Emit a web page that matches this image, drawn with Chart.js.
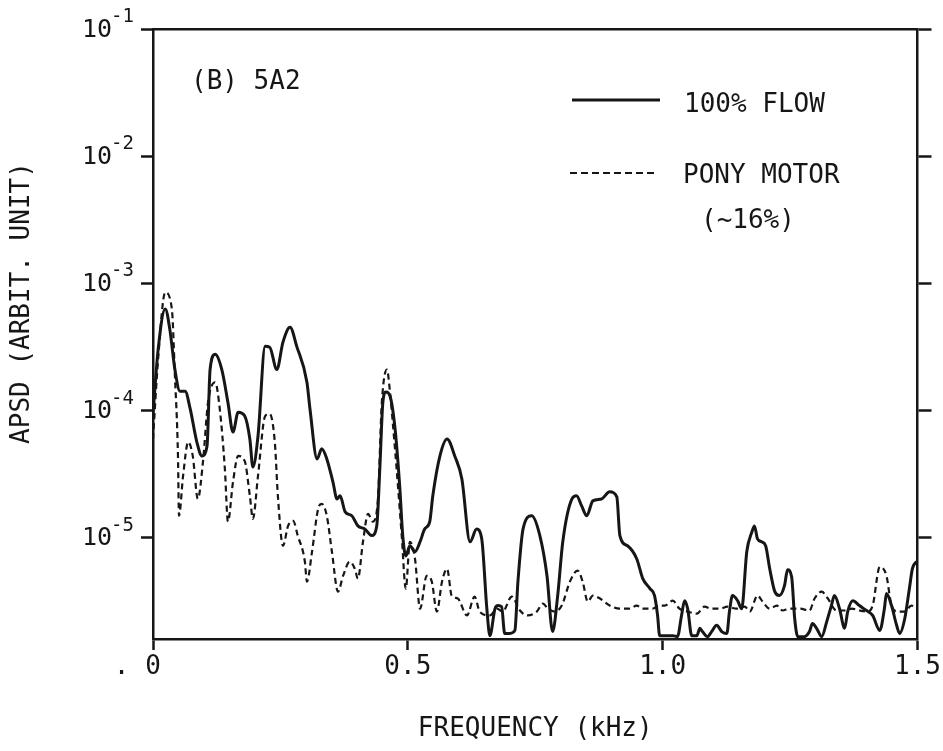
<!DOCTYPE html>
<html>
<head>
<meta charset="utf-8">
<script src="https://cdn.jsdelivr.net/npm/chart.js@4.4.1/dist/chart.umd.min.js"></script>
<style>
  html, body { margin: 0; padding: 0; background: #fff; }
  #wrap { width: 943px; height: 751px; }
</style>
</head>
<body>
<div id="wrap"><canvas id="apsd"></canvas></div>
<script>
// frequency (kHz) and APSD, 100% flow
var freqFlow = [
  0, 0.010, 0.024, 0.033, 0.043, 0.053, 0.063, 0.073, 0.086, 0.096,
  0.106, 0.112, 0.122, 0.135, 0.147, 0.157, 0.167, 0.180, 0.190, 0.196,
  0.206, 0.220, 0.229, 0.243, 0.255, 0.269, 0.282, 0.302, 0.308, 0.322,
  0.331, 0.341, 0.353, 0.361, 0.367, 0.377, 0.390, 0.402, 0.416, 0.429,
  0.439, 0.445, 0.451, 0.457, 0.465, 0.475, 0.484, 0.490, 0.496, 0.504,
  0.514, 0.524, 0.533, 0.543, 0.549, 0.563, 0.577, 0.592, 0.606, 0.622,
  0.635, 0.645, 0.655, 0.661, 0.671, 0.677, 0.684, 0.690, 0.700, 0.710,
  0.716, 0.726, 0.743, 0.759, 0.773, 0.784, 0.794, 0.804, 0.822, 0.831,
  0.841, 0.851, 0.863, 0.880, 0.896, 0.910, 0.916, 0.931, 0.949, 0.961,
  0.975, 0.984, 0.990, 0.994, 1.008, 1.020, 1.029, 1.037, 1.043, 1.049,
  1.057, 1.067, 1.073, 1.078, 1.088, 1.096, 1.106, 1.116, 1.126, 1.131,
  1.137, 1.147, 1.155, 1.165, 1.175, 1.180, 1.186, 1.194, 1.202, 1.210,
  1.220, 1.229, 1.239, 1.245, 1.253, 1.259, 1.265, 1.278, 1.288, 1.294,
  1.302, 1.312, 1.322, 1.331, 1.337, 1.347, 1.357, 1.363, 1.373, 1.386,
  1.400, 1.412, 1.426, 1.435, 1.439, 1.449, 1.459, 1.465, 1.475, 1.484,
  1.490, 1.500
];
var apsdFlow = [
  9.4e-5, 3.0e-4, 6.3e-4, 4.35e-4, 2.1e-4, 1.42e-4, 1.42e-4, 1.03e-4, 5.66e-5, 4.4e-5,
  5.26e-5, 2.1e-4, 2.77e-4, 2.1e-4, 1.16e-4, 6.78e-5, 9.7e-5, 9.05e-5, 5.97e-5, 3.6e-5,
  6.3e-5, 3.2e-4, 3.15e-4, 2.1e-4, 3.45e-4, 4.52e-4, 3.2e-4, 1.67e-4, 1.03e-4, 4.17e-5,
  5.0e-5, 4.17e-5, 2.75e-5, 2.02e-5, 2.14e-5, 1.6e-5, 1.49e-5, 1.24e-5, 1.17e-5, 1.04e-5,
  1.24e-5, 3.48e-5, 1.16e-4, 1.4e-4, 1.3e-4, 7.15e-5, 2.56e-5, 1.04e-5, 7.2e-6, 8.65e-6,
  7.77e-6, 9.3e-6, 1.17e-5, 1.34e-5, 2.14e-5, 4.4e-5, 5.97e-5, 4.4e-5, 2.9e-5, 9.3e-6,
  1.17e-5, 9.8e-6, 2.77e-6, 1.7e-6, 2.77e-6, 2.93e-6, 2.87e-6, 1.77e-6, 1.77e-6, 1.87e-6,
  4.52e-6, 1.17e-5, 1.49e-5, 1.04e-5, 5.03e-6, 1.83e-6, 3.51e-6, 9.3e-6, 2.02e-5, 2.14e-5,
  1.78e-5, 1.49e-5, 1.95e-5, 2.02e-5, 2.3e-5, 2.1e-5, 1.04e-5, 8.65e-6, 6.84e-6, 4.77e-6,
  3.98e-6, 3.51e-6, 2.45e-6, 1.7e-6, 1.7e-6, 1.7e-6, 1.67e-6, 2.45e-6, 3.2e-6, 2.77e-6,
  1.7e-6, 1.7e-6, 1.94e-6, 1.83e-6, 1.67e-6, 1.83e-6, 2.05e-6, 1.83e-6, 1.77e-6, 2.63e-6,
  3.51e-6, 3.2e-6, 2.77e-6, 7.77e-6, 1.11e-5, 1.24e-5, 9.8e-6, 9.3e-6, 8.65e-6, 5.71e-6,
  3.77e-6, 3.51e-6, 4.2e-6, 5.61e-6, 4.94e-6, 2.32e-6, 1.67e-6, 1.67e-6, 1.83e-6, 2.12e-6,
  1.94e-6, 1.67e-6, 2.2e-6, 2.93e-6, 3.51e-6, 2.77e-6, 1.94e-6, 2.63e-6, 3.2e-6, 2.93e-6,
  2.68e-6, 2.45e-6, 1.87e-6, 2.77e-6, 3.64e-6, 2.93e-6, 2.05e-6, 1.77e-6, 2.32e-6, 3.98e-6,
  5.71e-6, 6.6e-6
];

// pony motor (~16%)
var freqPony = [
  0, 0.010, 0.024, 0.037, 0.043, 0.049, 0.051, 0.059, 0.069, 0.078,
  0.088, 0.098, 0.108, 0.122, 0.131, 0.141, 0.147, 0.157, 0.167, 0.180,
  0.190, 0.196, 0.206, 0.220, 0.229, 0.239, 0.245, 0.255, 0.265, 0.275,
  0.284, 0.298, 0.302, 0.312, 0.324, 0.331, 0.341, 0.351, 0.363, 0.373,
  0.386, 0.396, 0.402, 0.412, 0.422, 0.431, 0.441, 0.449, 0.459, 0.465,
  0.471, 0.478, 0.488, 0.496, 0.504, 0.514, 0.524, 0.537, 0.547, 0.557,
  0.567, 0.577, 0.586, 0.598, 0.616, 0.631, 0.641, 0.661, 0.675, 0.686,
  0.704, 0.720, 0.735, 0.753, 0.765, 0.775, 0.788, 0.802, 0.818, 0.833,
  0.843, 0.853, 0.863, 0.877, 0.896, 0.916, 0.935, 0.949, 0.961, 0.980,
  0.994, 1.004, 1.020, 1.033, 1.049, 1.067, 1.082, 1.096, 1.112, 1.127,
  1.145, 1.161, 1.171, 1.186, 1.196, 1.210, 1.224, 1.235, 1.249, 1.269,
  1.288, 1.298, 1.312, 1.324, 1.341, 1.357, 1.371, 1.386, 1.402, 1.412,
  1.426, 1.439, 1.449, 1.461, 1.475, 1.488, 1.500
];
var apsdPony = [
  5.97e-5, 2.53e-4, 8.5e-4, 6.3e-4, 1.87e-4, 4.4e-5, 1.49e-5, 3.06e-5, 5.66e-5, 4.4e-5,
  2.02e-5, 3.94e-5, 1.16e-4, 1.67e-4, 1.03e-4, 3.48e-5, 1.34e-5, 2.75e-5, 4.4e-5, 4.0e-5,
  2.14e-5, 1.41e-5, 3.06e-5, 9.05e-5, 9.4e-5, 5.66e-5, 2.14e-5, 8.65e-6, 1.24e-5, 1.36e-5,
  1.04e-5, 6.48e-6, 4.52e-6, 7.77e-6, 1.69e-5, 1.85e-5, 1.49e-5, 7.77e-6, 3.77e-6, 5.03e-6,
  6.48e-6, 5.71e-6, 4.77e-6, 9.3e-6, 1.54e-5, 1.34e-5, 1.92e-5, 1.16e-4, 2.1e-4, 1.4e-4,
  7.55e-5, 3.48e-5, 1.04e-5, 3.98e-6, 9.3e-6, 6.84e-6, 2.77e-6, 5.03e-6, 4.52e-6, 2.63e-6,
  4.52e-6, 5.71e-6, 3.51e-6, 3.33e-6, 2.45e-6, 3.45e-6, 2.63e-6, 2.45e-6, 2.77e-6, 2.63e-6,
  3.45e-6, 2.68e-6, 2.45e-6, 2.63e-6, 3.04e-6, 2.77e-6, 2.63e-6, 2.93e-6, 4.52e-6, 5.51e-6,
  4.52e-6, 3.15e-6, 3.51e-6, 3.33e-6, 2.93e-6, 2.77e-6, 2.77e-6, 2.93e-6, 2.77e-6, 2.77e-6,
  2.93e-6, 2.93e-6, 3.2e-6, 2.77e-6, 2.63e-6, 2.53e-6, 2.87e-6, 2.77e-6, 2.77e-6, 2.87e-6,
  2.77e-6, 2.87e-6, 2.63e-6, 3.51e-6, 3.15e-6, 2.77e-6, 2.93e-6, 2.68e-6, 2.77e-6, 2.77e-6,
  2.68e-6, 3.33e-6, 3.77e-6, 3.33e-6, 2.68e-6, 2.68e-6, 2.77e-6, 2.68e-6, 2.63e-6, 2.93e-6,
  5.9e-6, 5.03e-6, 2.93e-6, 2.63e-6, 2.63e-6, 2.93e-6, 2.77e-6
];

// axis ticks
var xTickValues = [0, 0.5, 1.0, 1.5];
var xTickLabels = [". 0  ", "0.5", "1.0", "1.5"];
var yTickValues = [1e-5, 1e-4, 1e-3, 1e-2, 1e-1];
var yTickExponents = ["-5", "-4", "-3", "-2", "-1"];

var ink = "#161616";
var mono = "'DejaVu Sans Mono', 'Liberation Mono', monospace";

// helper: pair up x and y arrays
function toPoints(xs, ys) {
  var pts = [];
  for (var i = 0; i < xs.length; i++) {
    pts.push({ x: xs[i], y: ys[i] });
  }
  return pts;
}

function decadeTicks(scale) {
  scale.ticks = yTickValues.map(function (v) { return { value: v }; });
}

// labels, legend and the 10^n tick labels
var annotate = {
  id: "annotate",
  afterDraw: function (chart) {
    var ctx = chart.ctx;
    var y = chart.scales.y;
    ctx.save();
    ctx.fillStyle = ink;
    ctx.strokeStyle = ink;

    // y tick labels with raised exponent
    ctx.textBaseline = "middle";
    for (var i = 0; i < yTickValues.length; i++) {
      var py = y.getPixelForValue(yTickValues[i]);
      ctx.font = "25px " + mono;
      ctx.textAlign = "right";
      ctx.fillText("10", 112, py + 1);
      ctx.font = "19px " + mono;
      ctx.textAlign = "left";
      ctx.fillText(yTickExponents[i], 111, py - 12);
    }

    // y axis title
    ctx.save();
    ctx.translate(22, 303);
    ctx.rotate(-Math.PI / 2);
    ctx.font = "26px " + mono;
    ctx.textAlign = "center";
    ctx.fillText("APSD (ARBIT. UNIT)", 0, 0);
    ctx.restore();

    // panel label
    ctx.font = "26px " + mono;
    ctx.textAlign = "left";
    ctx.fillText("(B) 5A2", 191, 82);

    // legend
    ctx.lineWidth = 3;
    ctx.beginPath();
    ctx.moveTo(572, 100);
    ctx.lineTo(660, 100);
    ctx.stroke();
    ctx.fillText("100% FLOW", 684, 105);

    ctx.lineWidth = 2;
    ctx.setLineDash([7, 4]);
    ctx.beginPath();
    ctx.moveTo(570, 173);
    ctx.lineTo(657, 173);
    ctx.stroke();
    ctx.setLineDash([]);
    ctx.fillText("PONY MOTOR", 683, 176);
    ctx.fillText("(~16%)", 701, 221);

    ctx.restore();
  }
};

var chart = new Chart(document.getElementById("apsd").getContext("2d"), {
  type: "line",
  data: {
    datasets: [
      {
        label: "100% FLOW",
        data: toPoints(freqFlow, apsdFlow),
        borderColor: ink,
        borderWidth: 3,
        pointRadius: 0,
        cubicInterpolationMode: "monotone",
        fill: false,
      },
      {
        label: "PONY MOTOR (~16%)",
        data: toPoints(freqPony, apsdPony),
        borderColor: ink,
        borderWidth: 2.2,
        borderDash: [6, 4],
        pointRadius: 0,
        cubicInterpolationMode: "monotone",
        fill: false,
      },
    ],
  },
  options: {
    responsive: true,
    maintainAspectRatio: false,
    animation: false,
    devicePixelRatio: 1,
    layout: { padding: 0 },
    plugins: {
      legend: { display: false },
      tooltip: { enabled: false },
    },
    scales: {
      x: {
        type: "linear",
        position: "bottom",
        min: 0,
        max: 1.5,
        afterBuildTicks: function (s) {
          s.ticks = xTickValues.map(function (v) { return { value: v }; });
        },
        afterFit: function (s) { s.height = 112; },
        ticks: {
          callback: function (v, i) { return xTickLabels[i]; },
          font: { family: mono, size: 26 },
          color: ink,
          padding: 2,
          maxRotation: 0,
          autoSkip: false,
        },
        grid: { drawOnChartArea: false, tickLength: 11, tickWidth: 2.5, color: ink },
        border: { width: 2.5, color: ink },
        title: {
          display: true,
          text: "FREQUENCY (kHz)",
          font: { family: mono, size: 26 },
          color: ink,
          padding: { top: 0, bottom: 6 },
        },
      },
      xTop: {
        type: "linear",
        position: "top",
        min: 0,
        max: 1.5,
        afterFit: function (s) { s.height = 29; },
        ticks: { display: false },
        grid: { drawOnChartArea: false, drawTicks: false },
        border: { width: 2.5, color: ink },
      },
      y: {
        type: "logarithmic",
        position: "left",
        min: 1.6e-6,
        max: 0.1,
        afterBuildTicks: decadeTicks,
        afterFit: function (s) { s.width = 153; },
        ticks: { display: false },
        grid: { drawOnChartArea: false, tickLength: 12, tickWidth: 2.5, color: ink },
        border: { width: 2.5, color: ink },
      },
      yRight: {
        type: "logarithmic",
        position: "right",
        min: 1.6e-6,
        max: 0.1,
        afterBuildTicks: decadeTicks,
        afterFit: function (s) { s.width = 25; },
        ticks: { display: false },
        grid: { drawOnChartArea: false, tickLength: 14, tickWidth: 2.5, color: ink },
        border: { width: 2.5, color: ink },
      },
    },
  },
  plugins: [annotate],
});
</script>
</body>
</html>
